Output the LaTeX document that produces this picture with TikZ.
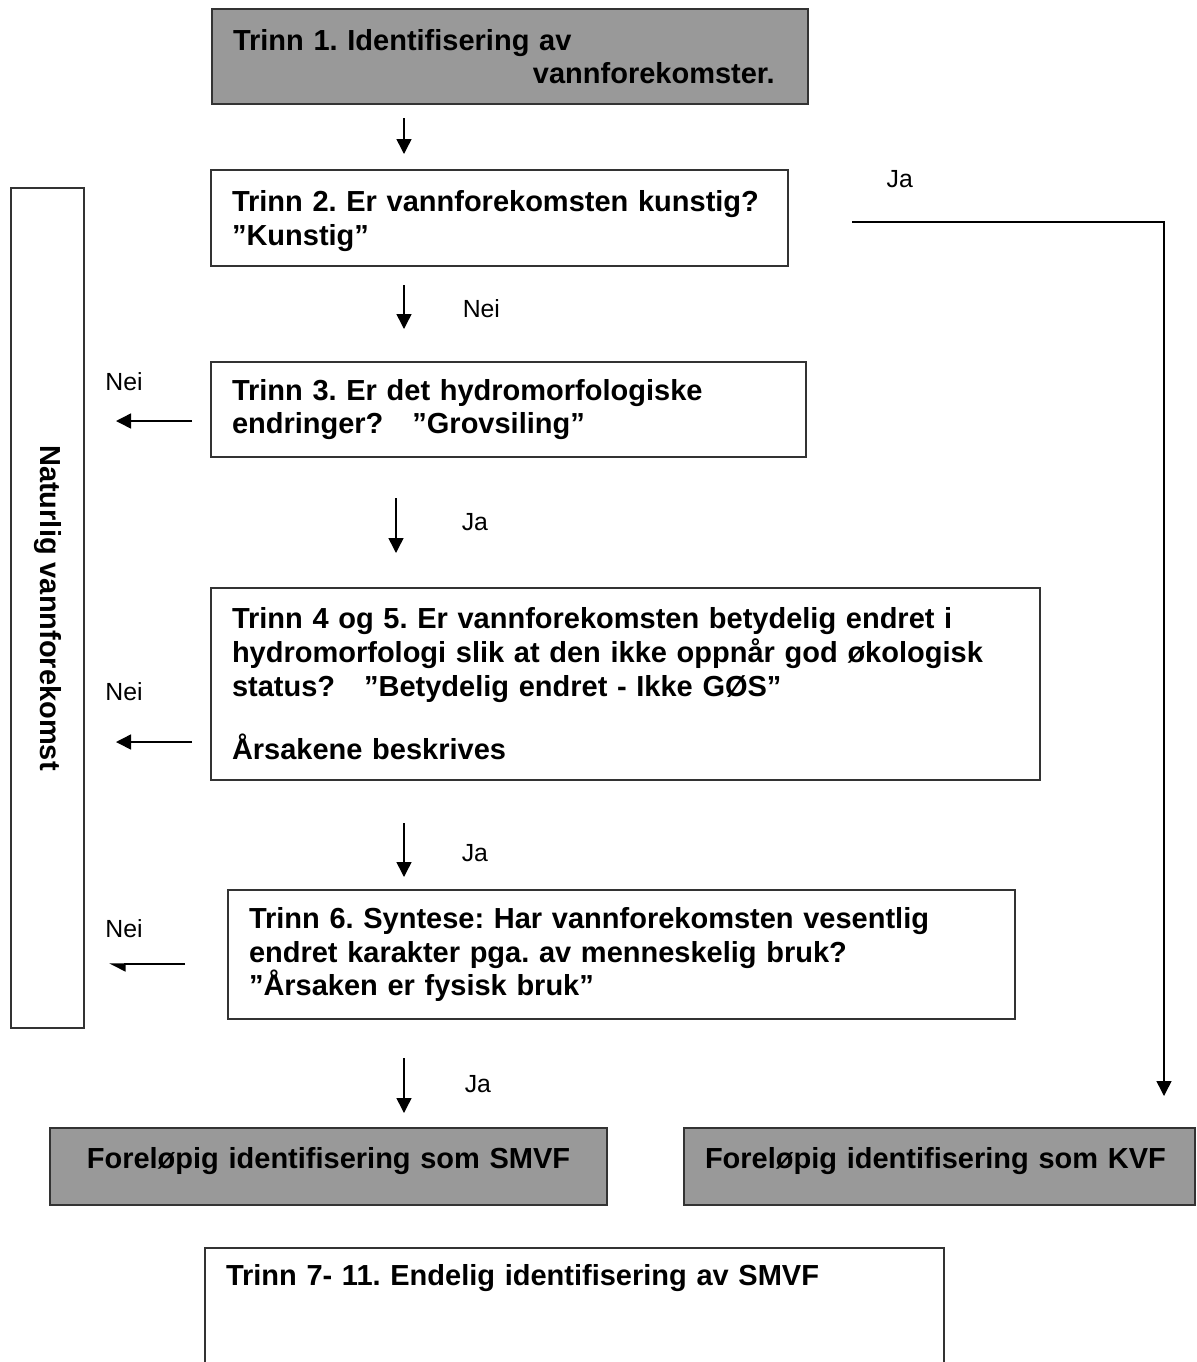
\documentclass[tikz,border=0pt]{standalone}
\usepackage{fontspec}
\setmainfont{Liberation Sans}
\frenchspacing
\usetikzlibrary{arrows.meta}
\tikzset{auto, >={Triangle[length=7.5pt, width=7.5pt]},
  stepbox/.style={draw=black!80, line width=1pt, align=left, inner xsep=10.5pt,
    font=\bfseries\fontsize{14.5}{16.8}\selectfont},
  graybox/.style={stepbox, fill=black!40},
  lbl/.style={inner sep=0pt, font=\fontsize{12.4}{14}\selectfont}}

\begin{document}
\begin{tikzpicture}[x=0.5pt, y=-0.5pt, line width=0.75pt]
  \useasboundingbox (0,0) rectangle (1196,1362);
  \clip (0,0) rectangle (1196,1362);
  \node[graybox, text width=277pt, minimum height=47.5pt] (T1) at (510,56.5)
    {Trinn 1. Identifisering av\\\hspace*{150pt}vannforekomster.};
  \node[stepbox, text width=267.5pt, minimum height=48pt, text depth=17pt] (T2) [below of=T1, node distance=80.75pt, xshift=-5.25pt]
    {Trinn 2. Er vannforekomsten kunstig?\\”Kunstig”};
  \node[stepbox, text width=276.5pt, minimum height=47.5pt] (T3) [below of=T2, node distance=95.75pt, xshift=4.5pt]
    {Trinn 3. Er det hydromorfologiske\\endringer?\ \ \ ”Grovsiling”};
  \node[stepbox, text width=393.5pt, minimum height=96pt] (T45) [below of=T3, node distance=137.25pt, xshift=58.5pt]
    {Trinn 4 og 5. Er vannforekomsten betydelig endret i\\hydromorfologi slik at den ikke oppnår god økologisk\\status?\ \ \ ”Betydelig endret - Ikke GØS”\\[15pt]Årsakene beskrives};
  \node[stepbox, text width=372.5pt, minimum height=64.5pt] (T6) [below of=T45, node distance=135.25pt, xshift=-2pt]
    {Trinn 6. Syntese: Har vannforekomsten vesentlig\\endret karakter pga. av menneskelig bruk?\\”Årsaken er fysisk bruk”};
  \node[graybox, text width=257.5pt, minimum height=38.5pt, text depth=8.6pt, align=center] (S) [below of=T6, node distance=106pt, xshift=-146.5pt]
    {Foreløpig identifisering som SMVF};
  \node[graybox, text width=234.5pt, minimum height=38.5pt, text depth=8.6pt] (K) [right of=S, node distance=305.5pt]
    {Foreløpig identifisering som KVF};
  \node[stepbox, text width=348.5pt, inner ysep=8pt, text depth=60pt] (T7) [below of=S, node distance=40.25pt, anchor=north, xshift=123pt]
    {Trinn 7- 11. Endelig identifisering av SMVF};
  \node[stepbox, minimum width=36.5pt, minimum height=420pt] (N) at (47.5,608)
    {\rotatebox{-90}{Naturlig vannforekomst}};
  \coordinate (M) at (404,0);
  \coordinate (M2) at (396,0);
  \draw[->, shorten <=6.5pt, shorten >=7.5pt] (T1.south -| M) -- (T2.north -| M);
  \draw[->, shorten <=9pt, shorten >=16pt] (T2.south -| M) to node[lbl, xshift=29pt, yshift=2.5pt] {Nei} (T3.north -| M);
  \draw[->, shorten <=20pt, shorten >=17pt] (T3.south -| M2) to node[lbl, xshift=32.5pt] {Ja} (T45.north -| M2);
  \draw[->, shorten <=21pt, shorten >=6pt] (T45.south -| M) to node[lbl, xshift=28.5pt, yshift=-9pt] {Ja} (T6.north -| M);
  \draw[->, shorten <=19pt, shorten >=7pt] (T6.south -| M) to node[lbl, xshift=30pt, yshift=-5.25pt] {Ja} (S.north -| M);
  \draw[->, shorten <=9pt, shorten >=15.5pt] ([yshift=-5.75pt]T3.west) to node[lbl, swap, xshift=-11.75pt, yshift=15pt] {Nei} ([yshift=-5.75pt]T3.west -| N.east);
  \draw[->, shorten <=9pt, shorten >=15.5pt] ([yshift=-29pt]T45.west) to node[lbl, swap, xshift=-11.75pt, yshift=20.5pt] {Nei} ([yshift=-29pt]T45.west -| N.east);
  \draw[-{Triangle[harpoon, length=7.5pt, width=7.5pt]}, shorten <=21pt, shorten >=12pt] ([yshift=-4.75pt]T6.west) to node[lbl, swap, xshift=-16pt, yshift=13pt] {Nei} ([yshift=-4.75pt]T6.west -| N.east);
  \draw[->, shorten <=31.5pt, shorten >=15.5pt] ([yshift=-2pt]T2.east) -| node[lbl, pos=0.1476, yshift=16.6pt] {Ja} ([xshift=112.25pt]K.north);
\end{tikzpicture}
\end{document}
